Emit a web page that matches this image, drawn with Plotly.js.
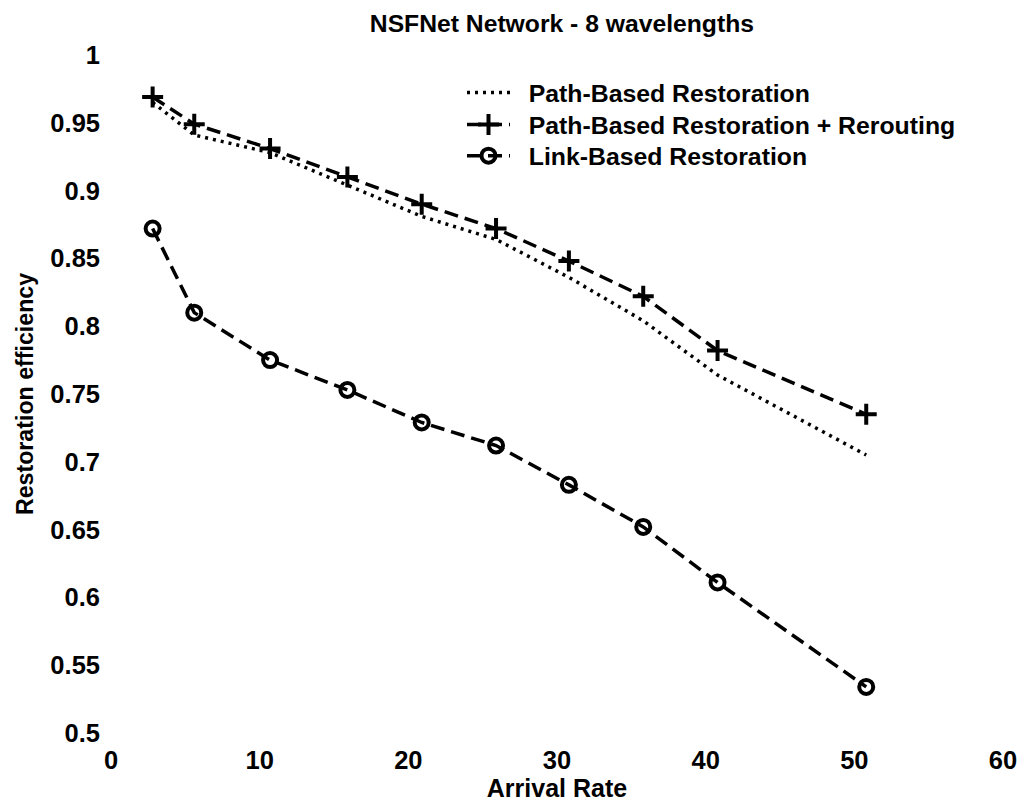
<!DOCTYPE html>
<html>
<head>
<meta charset="utf-8">
<script src="https://cdn.plot.ly/plotly-3.0.1.min.js"></script>
<style>
  html, body { margin: 0; padding: 0; background: #fff; }
  #chart { width: 1031px; height: 803px; }
</style>
</head>
<body>
<div id="chart"></div>
<script>
// Arrival rates at which each restoration scheme was simulated
const arrivalRate = [2.8, 5.6, 10.7, 15.9, 20.9, 25.9, 30.8, 35.8, 40.8, 50.8];

// Restoration efficiency per scheme
const pathBased = [0.965, 0.941, 0.928, 0.904, 0.881, 0.864, 0.836, 0.804, 0.764, 0.705];
const pathBasedRerouting = [0.969, 0.949, 0.931, 0.910, 0.890, 0.872, 0.848, 0.822, 0.782, 0.735];
const linkBased = [0.872, 0.810, 0.775, 0.753, 0.729, 0.712, 0.683, 0.652, 0.611, 0.534];

const seriesNames = [
  'Path-Based Restoration',
  'Path-Based Restoration + Rerouting',
  'Link-Based Restoration'
];

const xTicks = [0, 10, 20, 30, 40, 50, 60];
const yTicks = [0.5, 0.55, 0.6, 0.65, 0.7, 0.75, 0.8, 0.85, 0.9, 0.95, 1];
const yTickText = ['0.5', '0.55', '0.6', '0.65', '0.7', '0.75', '0.8', '0.85', '0.9', '0.95', '1'];

const FONT = 'Liberation Sans, Arial, Helvetica, sans-serif';
const INK = '#000000';
const GAP = '\u00a0\u00a0'; // extra room between legend sample and label

function txt(size) {
  return { family: FONT, size: size, color: INK, weight: 'bold' };
}

const traces = [
  {
    x: arrivalRate, y: pathBased, name: GAP + seriesNames[0], legend: 'legend',
    type: 'scatter', mode: 'lines',
    line: { color: INK, width: 3.5, dash: '3px,5px' }
  },
  {
    x: arrivalRate, y: pathBasedRerouting, name: GAP + seriesNames[1], legend: 'legend2',
    type: 'scatter', mode: 'lines+markers',
    line: { color: INK, width: 3.5, dash: '14px,7px' },
    marker: { symbol: 'cross-thin', size: 15, color: INK, line: { color: INK, width: 4 } }
  },
  {
    x: arrivalRate, y: linkBased, name: GAP + seriesNames[2], legend: 'legend3',
    type: 'scatter', mode: 'lines+markers',
    line: { color: INK, width: 3.5, dash: '14px,7px' },
    marker: { symbol: 'circle-open', size: 14, color: INK, line: { color: INK, width: 4 } }
  }
];

// One legend per row so the row spacing can follow the tight original layout
function legendRow(y) {
  return {
    x: 0.3935, xanchor: 'left',
    y: y, yanchor: 'middle',
    bgcolor: 'rgba(0,0,0,0)',
    borderwidth: 0,
    itemwidth: 43,
    font: txt(24.8)
  };
}

const layout = {
  width: 1031,
  height: 803,
  paper_bgcolor: '#ffffff',
  plot_bgcolor: '#ffffff',
  margin: { l: 111, r: 28, t: 55, b: 70 },
  font: txt(25),
  title: {
    text: 'NSFNet Network - 8 wavelengths',
    font: txt(24.7),
    x: 0.545, xanchor: 'center',
    y: 0.971, yanchor: 'middle'
  },
  showlegend: true,
  legend: legendRow(0.944),
  legend2: legendRow(0.897),
  legend3: legendRow(0.851),
  xaxis: {
    range: [0, 60],
    tickvals: xTicks,
    ticktext: xTicks.map(String),
    showgrid: false, zeroline: false, showline: false,
    ticks: '',
    ticklabelstandoff: 9,
    tickfont: txt(25.5),
    title: { text: 'Arrival Rate', font: txt(25), standoff: 5 }
  },
  yaxis: {
    range: [0.5, 1],
    tickvals: yTicks,
    ticktext: yTickText,
    showgrid: false, zeroline: false, showline: false,
    ticks: '',
    ticklabelstandoff: 10,
    tickfont: txt(25.5),
    title: { text: 'Restoration efficiency', font: txt(23.2), standoff: 10 }
  }
};

Plotly.newPlot('chart', traces, layout, { displayModeBar: false, staticPlot: true });
</script>
</body>
</html>
